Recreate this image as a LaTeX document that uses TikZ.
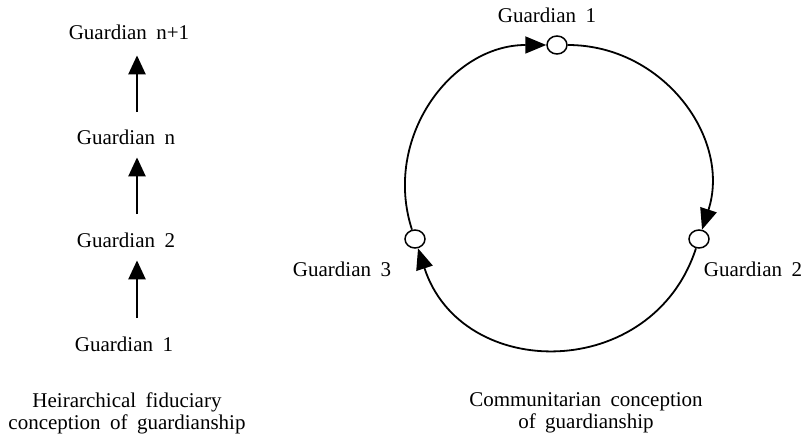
\documentclass[tikz,border=0pt]{standalone}
\usepackage{fontspec}
\setmainfont{Liberation Serif}[WordSpace=1.8]
\usetikzlibrary{arrows.meta,shapes.geometric}
\begin{document}
\begin{tikzpicture}[x=1pt,y=1pt,
  lbl/.style={inner sep=0pt, anchor=base, font=\fontsize{21}{22}\selectfont},
  captxt/.style={inner sep=0pt, anchor=north, align=center, font=\fontsize{21}{22}\selectfont},
  uparr/.style={line width=2.4pt, -{Triangle[length=19pt,width=17pt]}, shorten <=19pt, shorten >=12pt},
  gnode/.style={ellipse, draw, line width=1.5pt, fill=white, minimum width=20pt, minimum height=18pt, inner sep=0pt},
  ring/.style={line width=1.8pt, -{Triangle[length=21pt,width=17pt]}}
]
\useasboundingbox (0,0) rectangle (805,441);

% Hierarchical column
\coordinate (ax) at (137,0);
\node[lbl] (l4) at (129,401) {Guardian n+1};
\node[lbl] (l3) at (126,296) {Guardian n};
\node[lbl] (l2) at (126,193) {Guardian 2};
\node[lbl] (l1) at (124,89)  {Guardian 1};
\draw[uparr] (l1.north -| ax) -- (l2.south -| ax);
\draw[uparr] (l2.north -| ax) -- (l3.south -| ax);
\draw[uparr, shorten <=18pt, shorten >=15pt] (l3.north -| ax) -- (l4.south -| ax);
\node[captxt] (capL) at (127,48.6) {Heirarchical fiduciary\\conception of guardianship};

% Communitarian ring
\node[gnode] (g1) at (557,396) {};
\node[gnode] (g2) at (699,202) {};
\node[gnode] (g3) at (415,202) {};
\node[lbl] (t1) at (547,418) {Guardian 1};
\node[lbl] (t2) at (753,164) {Guardian 2};
\node[lbl] (t3) at (342,164) {Guardian 3};
\draw[ring] (g3) to[out=108, in=180, looseness=1.07] (g1);
\draw[ring] (g1) to[out=0, in=72, looseness=1.07] (g2);
\draw[ring] (g2) to[out=-108, in=-72, looseness=1.30] (g3);
\node[captxt] (capR) at (586,48.6) {Communitarian conception\\of guardianship};
\end{tikzpicture}
\end{document}
